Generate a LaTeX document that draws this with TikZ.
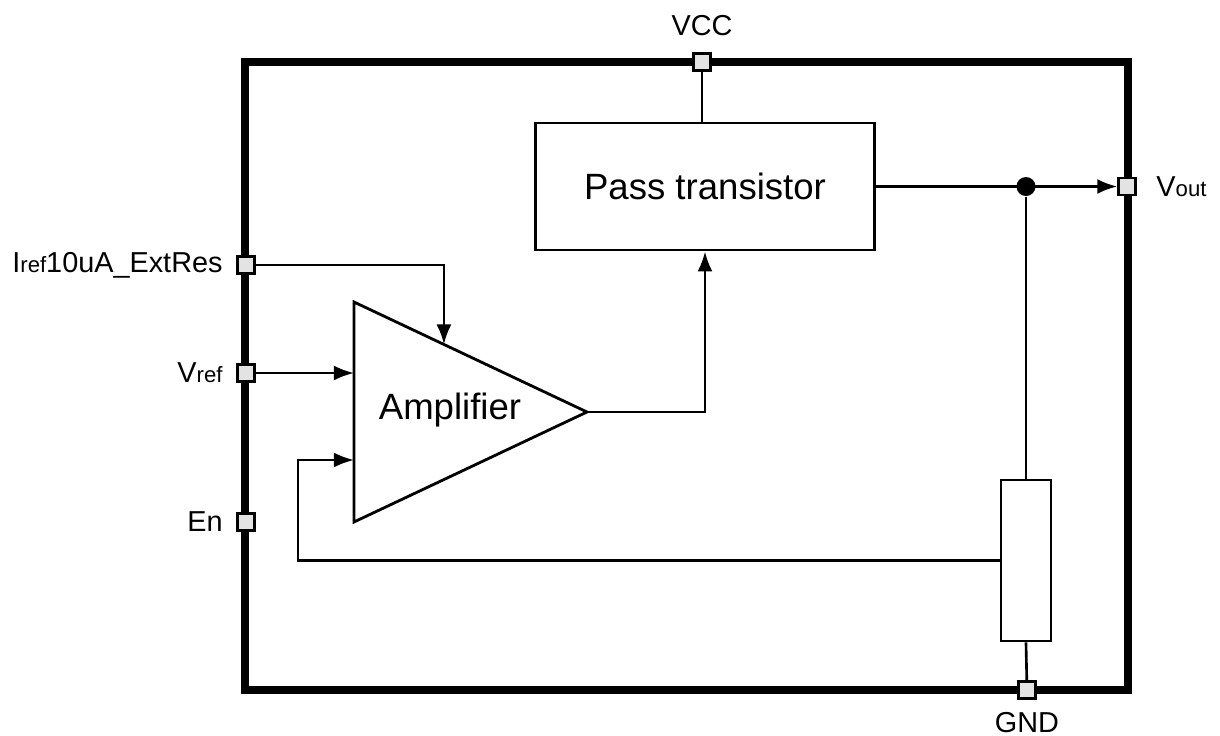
\documentclass[tikz,border=0pt]{standalone}
\usepackage{fontspec}
\setmainfont{Liberation Sans}
\usetikzlibrary{positioning, arrows.meta, calc}
\newcommand{\lowtext}[1]{{\fontsize{6.3}{7}\selectfont #1}}

\begin{document}
\begin{tikzpicture}[x=0.01cm, y=-0.01cm,
		port/.style={rectangle, draw, fill=gray!22, line width=0.7pt, minimum size=0.17cm, inner sep=0},
		block/.style={rectangle, draw, line width=0.8pt, font=\fontsize{10.4}{12}\selectfont},
		wire/.style={line width=0.75pt},
		arrow/.style={wire, -{Latex[length=0.2cm, width=0.15cm]}},
		portlabel/.style={font=\fontsize{8.2}{10}\selectfont, inner sep=0},
		junction/.style={circle, fill, inner sep=0, minimum size=0.19cm}
		]
		\useasboundingbox (0,0) rectangle (1220,736);
		% Chip outline
		\node[draw, line width=2.2pt, minimum width=8.83cm, minimum height=6.28cm] (chip) at (686.5,376) {};
		% Ports
		\node[port, label={[portlabel, label distance=0.16cm]above:VCC}] (vcc) at (702,62) {};
		\node[port, label={[portlabel, label distance=0.12cm]below:GND}] (gnd) at (1027,690) {};
		\node[port, label={[portlabel, label distance=0.19cm]right:V\lowtext{out}}] (vout) at (1127,186.5) {};
		\node[port, label={[portlabel, label distance=0.13cm]left:I\lowtext{ref}10uA\_ExtRes}] (iref) at (246,265) {};
		\node[port, label={[portlabel, label distance=0.13cm]left:V\lowtext{ref}}] (vref) at (246,373) {};
		\node[port, label={[portlabel, label distance=0.13cm]left:En}] (en) at (246,522) {};
		% Blocks
		\node[block, minimum width=3.38cm, minimum height=1.27cm] (pass) at (705,186.5) {Pass transistor};
		\node[block, minimum width=0.5cm, minimum height=1.61cm] (res) at (1026,560.5) {};
		% Amplifier
		\coordinate (ampTop) at (354,302);
		\coordinate (ampBot) at (354,522);
		\coordinate (ampOut) at (587,412);
		\coordinate (ampBias) at ($(ampTop)!0.386!(ampOut)$);
		\coordinate (ampFb) at (354,460);
		\coordinate (fbCorner) at (298,560);
		\draw[line width=0.8pt] (ampTop) -- (ampOut) -- (ampBot) -- cycle;
		\node[block, draw=none] (amp) at (450,410) {Amplifier};
		% Connections
		\draw[wire] (vcc) -- (vcc |- pass.north);
		\draw[arrow] (ampOut) -| (pass.south);
		\draw[arrow] (pass.east) -- (pass.east -| vout.west);
		\node[junction] (tap) at (res.north |- pass.east) {};
		\draw[wire] (tap) -- (res.north);
		\draw[wire] (res.south) -- (gnd);
		\draw[arrow] (iref) -| (ampBias);
		\draw[arrow] (vref) -- (vref -| ampTop);
		\draw[arrow] (res.west) -- (res.west -| fbCorner) |- (ampFb);
	\end{tikzpicture}
\end{document}
